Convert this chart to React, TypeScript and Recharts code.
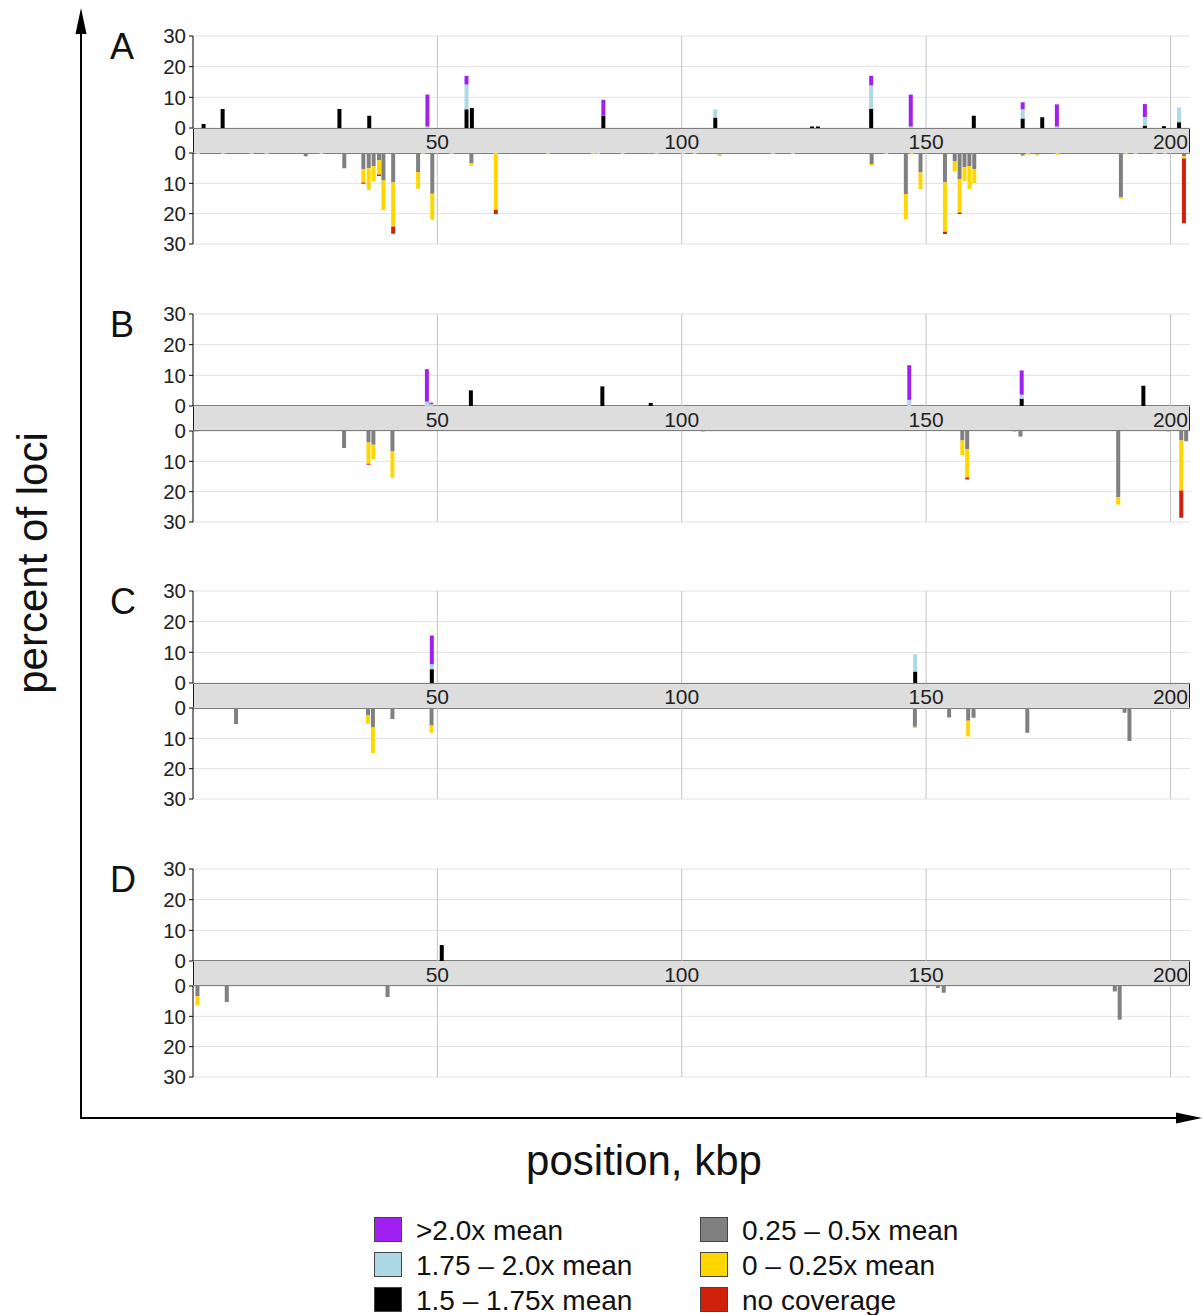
import React from "react";
import { BarChart, Bar, XAxis, YAxis, CartesianGrid, ReferenceLine } from "recharts";

const FONT = "'Liberation Sans', Arial, Helvetica, sans-serif";

const xTicks = [50, 100, 150, 200];
const yTicks = [0, 10, 20, 30];
const panelNames = ["A", "B", "C", "D"];

// rows above the band: [position kbp, 1.5-1.75x, 1.75-2.0x, >2.0x]
const aUp = [
  [2.1, 1.3, 0, 0], [6.0, 6.2, 0, 0], [29.9, 6.2, 0, 0], [36.0, 4.0, 0, 0],
  [47.9, 0, 0.5, 10.4], [55.9, 6.1, 8.1, 2.8], [57.0, 6.5, 0, 0], [83.9, 4.0, 0, 5.2],
  [106.8, 3.4, 2.7, 0], [126.6, 0.5, 0, 0], [127.8, 0.5, 0, 0], [138.7, 6.2, 7.7, 3.1],
  [146.8, 0, 0.5, 10.4], [159.7, 4.0, 0, 0], [169.7, 3.1, 3.0, 2.3], [173.7, 3.5, 0, 0],
  [176.7, 0, 0.5, 7.2], [194.7, 0.8, 2.8, 4.2], [198.6, 0.6, 0, 0], [201.7, 1.9, 4.8, 0],
];
const bUp = [
  [47.9, 0, 1.4, 10.6], [48.8, 0, 0.6, 0.5], [56.9, 5.1, 0, 0], [83.8, 6.4, 0, 0],
  [93.7, 1.0, 0, 0], [146.6, 0, 2.0, 11.3], [169.6, 2.4, 1.3, 7.9], [194.5, 6.6, 0, 0],
];
const cUp = [
  [48.8, 4.5, 1.6, 9.4], [147.7, 3.75, 5.6, 0],
];
const dUp = [
  [50.9, 5.2, 0, 0],
];

// rows below the band: [position kbp, 0.25-0.5x, 0-0.25x, no coverage]
const aDown = [
  [1.1, 0, 0.3, 0], [6.2, 0, 0.3, 0], [12.0, 0, 0.3, 0], [15.1, 0, 0.3, 0],
  [23.1, 1.1, 0, 0], [26.3, 0, 0.3, 0], [31.0, 5.0, 0, 0], [34.9, 5.3, 4.4, 0.4],
  [36.0, 5.0, 7.2, 0], [37.0, 4.4, 5.0, 0], [38.1, 2.4, 4.7, 0.5], [39.0, 9.1, 9.8, 0],
  [41.0, 9.7, 14.5, 2.4], [46.1, 6.3, 5.5, 0], [47.1, 0, 0.3, 0], [49.0, 13.4, 8.6, 0],
  [52.9, 0, 0.3, 0], [57.0, 3.3, 0.9, 0], [62.0, 0, 18.7, 1.4], [72.7, 0, 0.4, 0],
  [81.9, 0, 0.4, 0], [82.9, 0, 0.3, 0], [88.0, 0, 0.3, 0], [94.9, 0, 0.3, 0],
  [100.3, 0, 0.3, 0], [102.7, 0, 0.3, 0], [107.8, 0.5, 0.5, 0], [118.7, 0, 0.3, 0],
  [122.8, 0, 0.3, 0], [138.9, 3.6, 0.6, 0], [141.9, 0, 0.3, 0], [145.9, 13.5, 8.4, 0],
  [147.1, 0, 0.5, 0], [148.9, 6.4, 5.5, 0], [153.9, 9.7, 16.3, 0.7], [155.9, 2.8, 3.3, 0],
  [156.9, 8.6, 11.0, 0.5], [157.9, 4.6, 4.7, 0], [158.9, 4.4, 7.5, 0], [159.9, 5.3, 4.6, 0],
  [169.8, 0.8, 0.3, 0], [170.9, 0, 0.5, 0], [172.8, 0.5, 0.3, 0], [176.9, 0, 0.6, 0],
  [189.9, 14.7, 0.4, 0], [190.9, 0, 0.4, 0], [192.9, 0, 0.3, 0], [196.8, 0, 0.3, 0],
  [198.9, 0, 0.3, 0], [202.8, 1.1, 0.7, 21.4],
];
const bDown = [
  [0.75, 0, 0.3, 0], [31.0, 5.6, 0, 0], [36.0, 3.8, 7.0, 0.3], [37.0, 4.5, 4.9, 0],
  [40.9, 6.6, 8.8, 0], [104.4, 0, 0.3, 0], [157.5, 3.1, 4.9, 0], [158.5, 6.0, 9.3, 0.7],
  [168.2, 0, 0.3, 0], [169.4, 1.8, 0, 0], [189.4, 21.8, 2.5, 0], [199.6, 0, 0.3, 0],
  [202.3, 3.1, 16.5, 9.0], [203.3, 3.4, 0, 0],
];
const cDown = [
  [8.9, 5.3, 0, 0], [35.9, 2.5, 2.7, 0], [36.9, 6.4, 8.5, 0], [40.9, 3.6, 0, 0],
  [48.9, 5.8, 2.4, 0], [147.8, 6.2, 0.4, 0], [154.8, 3.1, 0, 0], [158.7, 4.2, 5.2, 0],
  [159.8, 3.2, 0, 0], [170.8, 8.2, 0, 0], [190.7, 1.6, 0, 0], [191.7, 10.9, 0, 0],
];
const dDown = [
  [1.0, 3.4, 3.0, 0], [7.0, 5.3, 0, 0], [39.9, 3.6, 0, 0], [152.5, 0.7, 0, 0],
  [153.7, 2.2, 0, 0], [188.7, 1.8, 0, 0], [189.7, 11.1, 0, 0],
];

const upRows = [aUp, bUp, cUp, dUp];
const downRows = [aDown, bDown, cDown, dDown];

const legendLabels = [
  ">2.0x mean", "1.75 – 2.0x mean", "1.5 – 1.75x mean",
  "0.25 – 0.5x mean", "0 – 0.25x mean", "no coverage",
];
const legendColors = ["#A020F0", "#ADD8E6", "#000000", "#808080", "#FFD700", "#D0220A"];

// layout
const PLOT_L = 193;
const PLOT_R = 1190;
const CHART_L = 140;
const AXIS_W = PLOT_L - CHART_L;
const CHART_W = PLOT_R - CHART_L + 10;
const UP_H = 92;
const DOWN_H = 91;
const BAND_H = 25;
const PAD = 14;
const FIRST_ZERO = 128;
const PANEL_STEP = 277.6;

const tickStyle = { fontSize: 20.5, fill: "#222", fontFamily: FONT };

function bandTick(props: any) {
  const { x, y, payload } = props;
  return (
    <text x={x} y={y + BAND_H / 2 + 1} textAnchor="middle" dominantBaseline="central"
      fontSize={21} fill="#222" fontFamily={FONT}>
      {payload.value}
    </text>
  );
}

function UpChart({ rows }: { rows: number[][] }) {
  const data = rows.map(([x, k, b, p]) => ({ x, k, b, p }));
  return (
    <BarChart width={CHART_W} height={PAD + UP_H + BAND_H} data={data}
      margin={{ top: PAD, right: 10, left: 0, bottom: 0 }}>
      <CartesianGrid vertical={false} stroke="#E2E2E2" />
      <XAxis dataKey="x" type="number" domain={[0, 204]} ticks={xTicks} height={BAND_H}
        axisLine={false} tickLine={false} tickSize={0} tickMargin={0} tick={bandTick}
        allowDataOverflow />
      <YAxis domain={[0, 30]} ticks={yTicks} width={AXIS_W} tick={tickStyle}
        axisLine={{ stroke: "#000" }} tickLine={{ stroke: "#000" }} tickSize={4} tickMargin={3} />
      {xTicks.map((t) => (
        <ReferenceLine key={t} x={t} stroke="#C2C2C2" />
      ))}
      <Bar dataKey="k" stackId="s" fill={legendColors[2]} barSize={4} isAnimationActive={false} />
      <Bar dataKey="b" stackId="s" fill={legendColors[1]} barSize={4} isAnimationActive={false} />
      <Bar dataKey="p" stackId="s" fill={legendColors[0]} barSize={4} isAnimationActive={false} />
    </BarChart>
  );
}

function DownChart({ rows }: { rows: number[][] }) {
  const data = rows.map(([x, g, y, r]) => ({ x, g, y, r }));
  return (
    <BarChart width={CHART_W} height={PAD + DOWN_H + PAD} data={data}
      margin={{ top: PAD, right: 10, left: 0, bottom: PAD }}>
      <CartesianGrid vertical={false} stroke="#E2E2E2" />
      <XAxis dataKey="x" type="number" domain={[0, 204]} ticks={xTicks} hide allowDataOverflow />
      <YAxis domain={[0, 30]} ticks={yTicks} reversed width={AXIS_W} tick={tickStyle}
        axisLine={{ stroke: "#000" }} tickLine={{ stroke: "#000" }} tickSize={4} tickMargin={3} />
      {xTicks.map((t) => (
        <ReferenceLine key={t} x={t} stroke="#C2C2C2" />
      ))}
      <Bar dataKey="g" stackId="s" fill={legendColors[3]} barSize={4} isAnimationActive={false} />
      <Bar dataKey="y" stackId="s" fill={legendColors[4]} barSize={4} isAnimationActive={false} />
      <Bar dataKey="r" stackId="s" fill={legendColors[5]} barSize={4} isAnimationActive={false} />
    </BarChart>
  );
}

function Panel({ index }: { index: number }) {
  const zero = FIRST_ZERO + PANEL_STEP * index;
  return (
    <>
      <div style={{ position: "absolute", left: 110, top: zero - 99, fontSize: 36, lineHeight: "36px", color: "#111" }}>
        {panelNames[index]}
      </div>
      <div style={{
        position: "absolute", left: PLOT_L, top: zero - 0.5, width: PLOT_R - PLOT_L, height: BAND_H + 1,
        boxSizing: "border-box", background: "#DDDDDD", border: "1px solid #1a1a1a",
      }} />
      <div style={{ position: "absolute", left: CHART_L, top: zero - UP_H - PAD }}>
        <UpChart rows={upRows[index]} />
      </div>
      <div style={{ position: "absolute", left: CHART_L, top: zero + BAND_H - PAD }}>
        <DownChart rows={downRows[index]} />
      </div>
    </>
  );
}

export default function App() {
  return (
    <div style={{ position: "relative", width: 1203, height: 1315, background: "#fff", fontFamily: FONT, overflow: "hidden" }}>
      <style>{`body{margin:0}`}</style>
      <svg width={1203} height={1315} style={{ position: "absolute", left: 0, top: 0 }}>
        <line x1={81} y1={1118} x2={81} y2={30} stroke="#000" strokeWidth={2} />
        <polygon points="81,8 75.5,34 86.5,34" fill="#000" />
        <line x1={80} y1={1118} x2={1180} y2={1118} stroke="#000" strokeWidth={2} />
        <polygon points="1202,1118 1176,1112.5 1176,1123.5" fill="#000" />
        <text x={0} y={0} transform="translate(47,563) rotate(-90)" textAnchor="middle"
          fontSize={42} fill="#111" fontFamily={FONT}>percent of loci</text>
        <text x={644} y={1175} textAnchor="middle" fontSize={42} fill="#111" fontFamily={FONT}>
          position, kbp
        </text>
        {legendLabels.map((label, i) => {
          const col = Math.floor(i / 3);
          const row = i % 3;
          const sx = col === 0 ? 374 : 700;
          const sy = 1217 + row * 35;
          return (
            <g key={label}>
              <rect x={sx + 0.5} y={sy + 0.5} width={27} height={24} fill={legendColors[i]} stroke="#444" />
              <text x={sx + 42} y={sy + 13} dominantBaseline="central" fontSize={28} fill="#111" fontFamily={FONT}>
                {label}
              </text>
            </g>
          );
        })}
      </svg>
      {panelNames.map((_, i) => (
        <Panel key={i} index={i} />
      ))}
    </div>
  );
}
